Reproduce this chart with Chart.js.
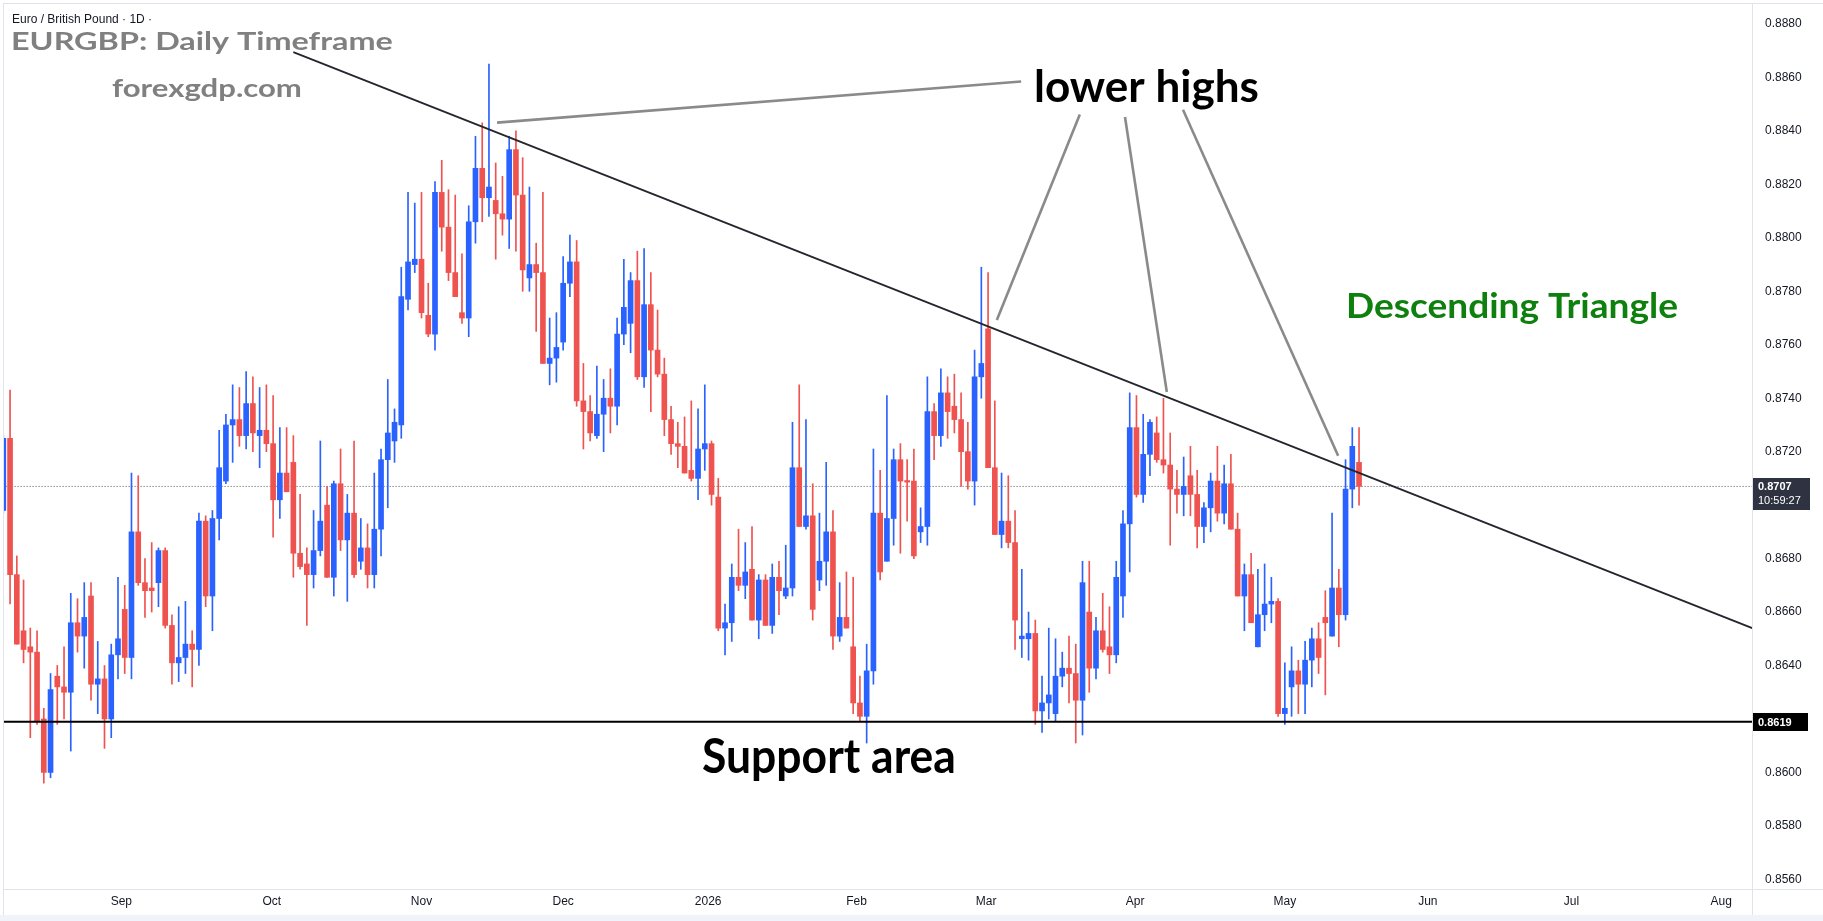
<!DOCTYPE html>
<html>
<head>
<meta charset="utf-8">
<script src="https://cdn.jsdelivr.net/npm/chart.js@4.4.1/dist/chart.umd.min.js"></script>
<style>
  html, body { margin: 0; padding: 0; background: #ffffff; }
  #wrap { width: 1823px; height: 921px; }
</style>
</head>
<body>
<div id="wrap"><canvas id="chart" width="1823" height="921"></canvas></div>
<script>
// EURGBP daily candles (index 0 = first candle on the left)
const opens = [
  0.8698,0.8725,0.8674,0.8653,0.8647,0.8645,0.8620,0.8600,0.8636,0.8632,
  0.8630,0.8656,0.8651,0.8666,0.8633,0.8635,0.8620,0.8644,0.8661,0.8643,
  0.8690,0.8671,0.8669,0.8671,0.8683,0.8655,0.8641,0.8643,0.8648,0.8646,
  0.8694,0.8666,0.8695,0.8709,0.8730,0.8732,0.8726,0.8738,0.8726,0.8728,
  0.8723,0.8702,0.8712,0.8716,0.8682,0.8678,0.8674,0.8683,0.8700,0.8673,
  0.8708,0.8687,0.8697,0.8679,0.8684,0.8674,0.8691,0.8717,0.8724,0.8730,
  0.8777,0.8790,0.8792,0.8771,0.8764,0.8817,0.8804,0.8787,0.8772,0.8770,
  0.8806,0.8826,0.8815,0.8814,0.8809,0.8807,0.8833,0.8816,0.8785,0.8790,
  0.8787,0.8753,0.8755,0.8761,0.8783,0.8791,0.8739,0.8735,0.8726,0.8734,
  0.8740,0.8737,0.8764,0.8768,0.8784,0.8748,0.8775,0.8758,0.8749,0.8732,
  0.8723,0.8722,0.8713,0.8710,0.8721,0.8723,0.8703,0.8654,0.8656,0.8673,
  0.8670,0.8676,0.8657,0.8672,0.8655,0.8673,0.8666,0.8669,0.8714,0.8692,
  0.8696,0.8672,0.8679,0.8690,0.8651,0.8658,0.8647,0.8626,0.8621,0.8638,
  0.8697,0.8679,0.8695,0.8717,0.87092,0.8709,0.8690,0.8692,0.8735,0.8726,
  0.8742,0.8737,0.8732,0.8720,0.8709,0.8748,0.8766,0.8714,0.8689,0.8694,
  0.8686,0.8650,0.8650,0.8652,0.8623,0.8626,0.8622,0.8636,0.8639,0.8637,
  0.8627,0.8660,0.8639,0.8653,0.8647,0.8644,0.8666,0.8693,0.8729,0.8704,
  0.8719,0.8727,0.8717,0.8715,0.8706,0.8704,0.8711,0.8704,0.8692,0.8699,
  0.8709,0.8697,0.8708,0.8691,0.8666,0.8674,0.8647,0.8659,0.8663,0.8664,
  0.8622,0.8632,0.8638,0.8633,0.8642,0.8650,0.8658,0.8651,0.8669,0.8659,
  0.8706,0.8716
];
const highs = [
  0.8726,0.8743,0.8681,0.8672,0.8654,0.8653,0.8624,0.8637,0.8640,0.8647,
  0.8667,0.8665,0.8671,0.8671,0.8649,0.8640,0.8648,0.8673,0.8670,0.8712,
  0.8711,0.8680,0.8686,0.8684,0.8684,0.8659,0.8662,0.8664,0.8653,0.8697,
  0.8696,0.8698,0.8728,0.8734,0.8745,0.8744,0.8750,0.8748,0.8744,0.8745,
  0.8741,0.8729,0.8729,0.8726,0.8704,0.8684,0.8698,0.8724,0.8707,0.8709,
  0.8721,0.8704,0.8724,0.8695,0.8693,0.8712,0.8721,0.8747,0.8736,0.8789,
  0.8817,0.8813,0.8817,0.8783,0.8821,0.8829,0.8818,0.8816,0.8794,0.8812,
  0.8838,0.8843,0.8865,0.8828,0.8823,0.8838,0.8840,0.8830,0.8819,0.8798,
  0.8817,0.8770,0.8772,0.8793,0.8801,0.8799,0.8753,0.8741,0.8752,0.8747,
  0.8751,0.8770,0.8792,0.8787,0.8795,0.8796,0.8787,0.8773,0.8755,0.8737,
  0.8731,0.8733,0.8739,0.8736,0.8745,0.8724,0.8710,0.8663,0.8678,0.8691,
  0.8686,0.8692,0.8674,0.8674,0.8678,0.8679,0.8685,0.8731,0.8745,0.8732,
  0.8708,0.8697,0.8716,0.8698,0.8671,0.8675,0.8673,0.8636,0.8648,0.8721,
  0.8713,0.8741,0.8721,0.8723,0.8717,0.8721,0.8699,0.8748,0.8738,0.8751,
  0.8748,0.8749,0.8742,0.8731,0.8758,0.8789,0.8787,0.8739,0.8712,0.8711,
  0.8698,0.8676,0.8660,0.8657,0.8636,0.8654,0.8650,0.8645,0.8651,0.8648,
  0.8679,0.8679,0.8658,0.8667,0.8662,0.8679,0.8698,0.8742,0.8741,0.8734,
  0.8732,0.8733,0.8740,0.8727,0.8713,0.8718,0.8722,0.8713,0.8701,0.8712,
  0.8722,0.8715,0.8719,0.8697,0.8678,0.8682,0.8676,0.8678,0.8673,0.8665,
  0.8641,0.8647,0.8642,0.8649,0.8654,0.8656,0.8668,0.8697,0.8676,0.8717,
  0.8729,0.8729
];
const lows = [
  0.8697,0.8663,0.8648,0.8641,0.8613,0.8618,0.8596,0.8598,0.8618,0.8620,
  0.8608,0.8645,0.8639,0.8627,0.8622,0.8609,0.8613,0.8635,0.8637,0.8635,
  0.8670,0.8658,0.8660,0.8662,0.8654,0.8633,0.8634,0.8637,0.8632,0.8640,
  0.8662,0.8653,0.8687,0.8708,0.8716,0.8722,0.8721,0.8720,0.8714,0.8720,
  0.8688,0.8695,0.8705,0.8673,0.8676,0.8655,0.8669,0.8681,0.8673,0.8666,
  0.8683,0.8664,0.8673,0.8676,0.8669,0.8669,0.8681,0.8699,0.8716,0.8725,
  0.8773,0.8787,0.8770,0.8763,0.8758,0.8795,0.8784,0.8778,0.8768,0.8763,
  0.8798,0.8806,0.8808,0.8792,0.8801,0.8796,0.8795,0.8780,0.8780,0.8765,
  0.8753,0.8745,0.8746,0.8758,0.8778,0.8737,0.8721,0.8724,0.8725,0.8720,
  0.8727,0.8730,0.8760,0.8757,0.8747,0.8744,0.8735,0.8748,0.8726,0.8719,
  0.8714,0.8712,0.8709,0.8702,0.8713,0.8700,0.8653,0.8644,0.8649,0.8668,
  0.8665,0.8657,0.8650,0.8655,0.8652,0.8659,0.8665,0.8666,0.8692,0.8691,
  0.8657,0.8668,0.8670,0.8646,0.8649,0.8654,0.8622,0.8619,0.8611,0.8633,
  0.8672,0.8679,0.8685,0.8682,0.8694,0.8680,0.8686,0.8685,0.8717,0.8722,
  0.8725,0.8727,0.8707,0.8706,0.8700,0.8740,0.8714,0.8689,0.8684,0.8684,
  0.8646,0.8643,0.8642,0.8618,0.8615,0.8620,0.8619,0.8632,0.8626,0.8611,
  0.8614,0.8630,0.8635,0.8645,0.8637,0.8641,0.8658,0.8675,0.8703,0.8701,
  0.8711,0.8716,0.8712,0.8685,0.8697,0.8696,0.8696,0.8684,0.8686,0.8690,
  0.8694,0.8693,0.8691,0.8666,0.8653,0.8656,0.8647,0.8653,0.8656,0.8621,
  0.8618,0.8621,0.8622,0.8622,0.8632,0.8637,0.8629,0.8651,0.8647,0.8657,
  0.8699,0.8700
];
const closes = [
  0.8725,0.8674,0.8648,0.8646,0.8645,0.8619,0.8600,0.8631,0.8632,0.8630,
  0.8656,0.8651,0.8658,0.8633,0.8635,0.8620,0.8644,0.8650,0.8643,0.8690,
  0.8671,0.8668,0.8668,0.8683,0.8655,0.8641,0.8643,0.8648,0.8646,0.8694,
  0.8666,0.8695,0.8714,0.8730,0.8732,0.8726,0.8738,0.8727,0.8728,0.8723,
  0.8702,0.8712,0.8705,0.8682,0.8677,0.8674,0.8683,0.8694,0.8673,0.8708,
  0.8687,0.8697,0.8674,0.8684,0.8674,0.8691,0.8717,0.8727,0.8731,0.8778,
  0.8791,0.8792,0.8772,0.8764,0.8817,0.8804,0.8787,0.8778,0.8770,0.8806,
  0.8826,0.8815,0.8819,0.8809,0.8807,0.8833,0.8816,0.8788,0.8790,0.8787,
  0.8753,0.8755,0.8759,0.8783,0.8791,0.8739,0.8735,0.8727,0.8734,0.8740,
  0.8737,0.8764,0.8774,0.8784,0.8748,0.8775,0.8758,0.8749,0.8732,0.8723,
  0.8722,0.8712,0.8710,0.8721,0.8723,0.8704,0.8654,0.8656,0.8673,0.8670,
  0.8675,0.8657,0.8672,0.8655,0.8673,0.8668,0.8669,0.8714,0.8692,0.8696,
  0.8661,0.8679,0.8690,0.8651,0.8658,0.8654,0.8626,0.8621,0.8638,0.8697,
  0.8675,0.8695,0.8717,0.8709,0.87086,0.8681,0.8692,0.8735,0.8726,0.8742,
  0.8735,0.8732,0.8720,0.8709,0.8748,0.8753,0.8714,0.8689,0.8694,0.8686,
  0.8657,0.8651,0.8652,0.8623,0.8626,0.8629,0.8636,0.8639,0.8637,0.8627,
  0.8671,0.8639,0.8653,0.8646,0.8644,0.8673,0.8693,0.8729,0.8704,0.8719,
  0.8731,0.8717,0.8715,0.8706,0.8704,0.8707,0.8704,0.8692,0.8699,0.8709,
  0.8697,0.8708,0.8691,0.8666,0.8674,0.8656,0.8659,0.8663,0.8664,0.8622,
  0.8624,0.8638,0.8633,0.8642,0.8650,0.8643,0.8656,0.8669,0.8659,0.8706,
  0.8722,0.8707
];

// x axis: month labels and the candle index where each label sits
const monthLabels = ['Sep', 'Oct', 'Nov', 'Dec', '2026', 'Feb', 'Mar', 'Apr', 'May', 'Jun', 'Jul', 'Aug'];
const monthStartIdx = [17.5, 39.8, 62, 83, 104.5, 126.5, 145.7, 167.8, 190, 211.2, 232.5, 254.7];

// y axis ticks
const priceTicks = [0.8560, 0.8580, 0.8600, 0.8620, 0.8640, 0.8660, 0.8680, 0.8700,
                    0.8720, 0.8740, 0.8760, 0.8780, 0.8800, 0.8820, 0.8840, 0.8860, 0.8880];

// drawn levels (candle index, price)
const supportLevel = 0.8619;
const lastPrice = 0.8707;
const countdown = '10:59:27';
const trendLine = [{ x: 43, y: 0.88695 }, { x: 259.3, y: 0.8654 }];
const pointerLines = [
  [{ x: 73.2, y: 0.88431 }, { x: 150.9, y: 0.88585 }],
  [{ x: 147.3, y: 0.87693 }, { x: 159.6, y: 0.88461 }],
  [{ x: 172.5, y: 0.87423 }, { x: 166.3, y: 0.88452 }],
  [{ x: 197.9, y: 0.87185 }, { x: 174.9, y: 0.88479 }]
];

const UP = '#2962ff';
const DOWN = '#ef5350';
const AXIS_FONT = "'Liberation Sans', Arial, sans-serif";
const NOTE_FONT = "Lato, 'Open Sans', sans-serif";

const idx = opens.map((_, i) => i);
const candleColors = idx.map(i => closes[i] >= opens[i] ? UP : DOWN);

// draw text fitted to a width, stretched to a given cap height
function fitText(ctx, txt, o) {
  ctx.save();
  ctx.font = `${o.weight} 100px ${o.family}`;
  const size = 100 * o.width / ctx.measureText(txt).width;
  ctx.font = `${o.weight} ${size}px ${o.family}`;
  const asc = ctx.measureText(o.capChar).actualBoundingBoxAscent;
  const sy = o.height ? o.height / asc : 1;
  ctx.translate(o.x, o.baseline);
  ctx.scale(1, sy);
  ctx.fillStyle = o.color;
  ctx.textAlign = 'left';
  ctx.textBaseline = 'alphabetic';
  ctx.fillText(txt, 0, 0);
  ctx.restore();
}

// stop the scales from reserving label room outside the plot
function noPadding(s) {
  s.paddingTop = 0; s.paddingBottom = 0; s.paddingLeft = 0; s.paddingRight = 0;
}

const overlay = {
  id: 'overlay',
  beforeDraw(chart) {
    const ctx = chart.ctx;
    ctx.save();
    ctx.fillStyle = '#ffffff';
    ctx.fillRect(0, 0, chart.width, chart.height);
    ctx.fillStyle = '#f0f3fa';
    ctx.fillRect(0, 915, chart.width, 6);
    ctx.restore();
  },
  afterDraw(chart) {
    const { ctx, chartArea: a, scales: { y } } = chart;
    ctx.save();

    // frame lines
    ctx.strokeStyle = '#e0e3eb';
    ctx.lineWidth = 1;
    ctx.beginPath();
    ctx.moveTo(a.left - 0.5, 3); ctx.lineTo(a.left - 0.5, 915);
    ctx.moveTo(a.left - 1, 3.5); ctx.lineTo(chart.width, 3.5);
    ctx.moveTo(a.right + 0.5, 3); ctx.lineTo(a.right + 0.5, 915);
    ctx.moveTo(a.left - 1, a.bottom + 0.5); ctx.lineTo(chart.width, a.bottom + 0.5);
    ctx.stroke();

    // axis boxes
    const yS = Math.round(y.getPixelForValue(supportLevel));
    ctx.fillStyle = '#000000';
    ctx.fillRect(a.right + 1, yS - 9, 55, 18);
    ctx.fillStyle = '#ffffff';
    ctx.font = `bold 11px ${AXIS_FONT}`;
    ctx.textBaseline = 'middle';
    ctx.textAlign = 'left';
    ctx.fillText(supportLevel.toFixed(4), a.right + 6, yS + 0.5);

    const yL = Math.round(y.getPixelForValue(lastPrice));
    ctx.fillStyle = '#2f3341';
    ctx.fillRect(a.right + 1, yL - 8, 57, 32);
    ctx.fillStyle = '#ffffff';
    ctx.font = `bold 11px ${AXIS_FONT}`;
    ctx.fillText(lastPrice.toFixed(4), a.right + 6, yL + 0.5);
    ctx.font = `11px ${AXIS_FONT}`;
    ctx.fillText(countdown, a.right + 6, yL + 15);

    // header
    ctx.fillStyle = '#131722';
    ctx.font = `12px ${AXIS_FONT}`;
    ctx.textBaseline = 'alphabetic';
    ctx.fillText('Euro / British Pound \u00b7 1D \u00b7', 12, 23);
    ctx.restore();

    fitText(ctx, 'EURGBP: Daily Timeframe', { x: 11, baseline: 50, width: 382, height: 18, capChar: 'E', weight: 'bold', family: NOTE_FONT, color: '#808080' });
    fitText(ctx, 'forexgdp.com', { x: 112, baseline: 97, width: 190, height: 17, capChar: 'f', weight: 'bold', family: NOTE_FONT, color: '#808080' });
    fitText(ctx, 'lower highs', { x: 1034, baseline: 102, width: 225, height: 33, capChar: 'l', weight: 'bold', family: NOTE_FONT, color: '#000000' });
    fitText(ctx, 'Support area', { x: 702, baseline: 773, width: 254, height: 34, capChar: 'S', weight: 'bold', family: NOTE_FONT, color: '#000000' });
    fitText(ctx, 'Descending Triangle', { x: 1346, baseline: 318, width: 332, height: 24, capChar: 'D', weight: 'bold', family: NOTE_FONT, color: '#0e800e' });
  }
};

const lineSet = (data, color, width, order, dash) => ({
  type: 'line', data: data, borderColor: color, borderWidth: width,
  borderDash: dash || [], pointRadius: 0, tension: 0, order: order, fill: false
});

const datasets = [
  lineSet([{ x: -5, y: supportLevel }, { x: 300, y: supportLevel }], '#000000', 2, 0),
  lineSet(trendLine, '#24262e', 1.8, 0),
  ...pointerLines.map(p => lineSet(p, '#8a8a8a', 2.6, 0)),
  {
    type: 'bar', label: 'bodies',
    data: idx.map(i => ({ x: i, y: [opens[i], closes[i]] })),
    backgroundColor: candleColors, borderWidth: 0,
    barThickness: 5, minBarLength: 1, grouped: false, order: 2
  },
  {
    type: 'bar', label: 'wicks',
    data: idx.map(i => ({ x: i, y: [lows[i], highs[i]] })),
    backgroundColor: candleColors, borderWidth: 0,
    barThickness: 1, grouped: false, order: 3
  },
  lineSet([{ x: -5, y: lastPrice }, { x: 300, y: lastPrice }], '#555555', 1, 4, [1, 2])
];

new Chart(document.getElementById('chart'), {
  type: 'bar',
  data: { datasets: datasets },
  plugins: [overlay],
  options: {
    responsive: false,
    animation: false,
    devicePixelRatio: 1,
    layout: { padding: { left: 4, top: 4, right: 0, bottom: 0 } },
    plugins: { legend: { display: false }, tooltip: { enabled: false } },
    scales: {
      x: {
        type: 'linear', min: 0.1, max: 259.26, offset: false,
        grid: { display: false, drawTicks: false },
        border: { display: false },
        afterBuildTicks: s => { s.ticks = monthStartIdx.map(v => ({ value: v })); },
        afterFit: s => { s.height = 32; noPadding(s); },
        ticks: {
          autoSkip: false, maxRotation: 0, padding: 5, color: '#131722',
          font: { size: 12, family: AXIS_FONT },
          callback: (v, i) => monthLabels[i]
        }
      },
      y: {
        position: 'right', min: 0.855639, max: 0.888748,
        grid: { display: false, drawTicks: false },
        border: { display: false },
        afterBuildTicks: s => { s.ticks = priceTicks.map(v => ({ value: v })); },
        afterFit: s => { s.width = 71; noPadding(s); },
        ticks: {
          padding: 13, color: '#131722',
          font: { size: 12, family: AXIS_FONT },
          callback: v => v.toFixed(4)
        }
      }
    }
  }
});
</script>
</body>
</html>
